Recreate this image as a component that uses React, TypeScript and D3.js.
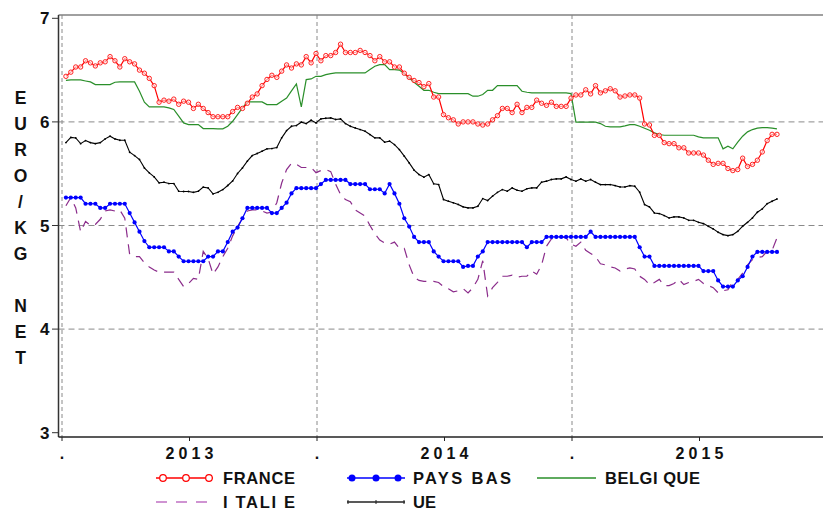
import React, { useEffect, useRef } from 'react';
import * as d3 from 'd3';

// weekly prices, EURO/KG NET, week 1 of 2013 to week 42 of 2015
const france = [
  6.44, 6.48, 6.53, 6.53, 6.59, 6.57, 6.54, 6.57, 6.58, 6.63, 6.59, 6.53, 6.61, 6.58, 6.56, 6.50, 6.47, 6.42, 6.35, 6.19,
  6.21, 6.20, 6.22, 6.17, 6.20, 6.19, 6.13, 6.17, 6.13, 6.09, 6.05, 6.05, 6.05, 6.05, 6.10, 6.14, 6.13, 6.18, 6.24, 6.27,
  6.35, 6.41, 6.45, 6.43, 6.49, 6.55, 6.52, 6.56, 6.55, 6.63, 6.57, 6.66, 6.59, 6.64, 6.64, 6.67, 6.75, 6.67, 6.67, 6.67,
  6.69, 6.67, 6.64, 6.59, 6.63, 6.58, 6.58, 6.53, 6.53, 6.47, 6.43, 6.40, 6.38, 6.34, 6.37, 6.24, 6.24, 6.07, 6.04, 6.02,
  5.98, 6.00, 6.00, 6.00, 5.98, 5.97, 5.98, 6.02, 6.06, 6.13, 6.13, 6.09, 6.17, 6.09, 6.14, 6.14, 6.21, 6.18, 6.16, 6.19,
  6.15, 6.15, 6.15, 6.23, 6.26, 6.26, 6.31, 6.27, 6.35, 6.28, 6.30, 6.32, 6.30, 6.24, 6.25, 6.26, 6.26, 6.23, 5.98, 5.97,
  5.87, 5.87, 5.80, 5.79, 5.79, 5.75, 5.75, 5.70, 5.70, 5.70, 5.68, 5.63, 5.59, 5.60, 5.60, 5.55, 5.53, 5.54, 5.65, 5.57,
  5.59, 5.63, 5.71, 5.82, 5.88, 5.88,
];
const paysBas = [
  5.27, 5.27, 5.27, 5.27, 5.21, 5.21, 5.21, 5.17, 5.17, 5.21, 5.21, 5.21, 5.21, 5.12, 5.03, 4.94, 4.85, 4.79, 4.79, 4.79,
  4.79, 4.75, 4.75, 4.70, 4.655, 4.655, 4.655, 4.655, 4.655, 4.70, 4.70, 4.75, 4.75, 4.84, 4.94, 4.98, 5.07, 5.17, 5.17, 5.17,
  5.17, 5.17, 5.12, 5.12, 5.17, 5.22, 5.31, 5.36, 5.36, 5.36, 5.36, 5.36, 5.40, 5.44, 5.44, 5.44, 5.44, 5.44, 5.40, 5.40,
  5.40, 5.40, 5.35, 5.35, 5.35, 5.31, 5.40, 5.31, 5.21, 5.07, 4.99, 4.89, 4.84, 4.84, 4.84, 4.75, 4.70, 4.655, 4.655, 4.655,
  4.655, 4.60, 4.61, 4.61, 4.70, 4.75, 4.84, 4.84, 4.84, 4.84, 4.84, 4.84, 4.84, 4.84, 4.79, 4.84, 4.84, 4.84, 4.89, 4.89,
  4.89, 4.89, 4.89, 4.89, 4.89, 4.89, 4.89, 4.94, 4.89, 4.89, 4.89, 4.89, 4.89, 4.89, 4.89, 4.89, 4.89, 4.79, 4.70, 4.70,
  4.61, 4.61, 4.61, 4.61, 4.61, 4.61, 4.61, 4.61, 4.61, 4.61, 4.56, 4.56, 4.56, 4.47, 4.41, 4.41, 4.41, 4.47, 4.51, 4.60,
  4.70, 4.745, 4.745, 4.745, 4.745, 4.745,
];
const belgique = [
  6.40, 6.405, 6.405, 6.405, 6.395, 6.386, 6.36, 6.36, 6.36, 6.36, 6.383, 6.386, 6.386, 6.386, 6.386, 6.296, 6.19, 6.145, 6.145, 6.145,
  6.145, 6.135, 6.12, 6.055, 5.99, 5.974, 5.974, 5.974, 5.936, 5.936, 5.936, 5.933, 5.933, 5.958, 6.006, 6.07, 6.135, 6.193, 6.193, 6.193,
  6.193, 6.167, 6.167, 6.167, 6.20, 6.23, 6.30, 6.367, 6.145, 6.408, 6.415, 6.44, 6.44, 6.456, 6.466, 6.473, 6.473, 6.473, 6.473, 6.473,
  6.473, 6.473, 6.505, 6.537, 6.553, 6.553, 6.505, 6.505, 6.50, 6.466, 6.424, 6.383, 6.344, 6.305, 6.305, 6.286, 6.273, 6.273, 6.273, 6.273,
  6.273, 6.273, 6.273, 6.248, 6.248, 6.264, 6.305, 6.305, 6.35, 6.35, 6.35, 6.35, 6.35, 6.296, 6.286, 6.28, 6.28, 6.28, 6.28, 6.28,
  6.28, 6.28, 6.28, 6.273, 5.997, 5.997, 5.997, 5.997, 5.997, 5.984, 5.958, 5.952, 5.952, 5.952, 5.962, 5.974, 5.974, 5.958, 5.939, 5.92,
  5.894, 5.878, 5.871, 5.871, 5.871, 5.871, 5.871, 5.871, 5.871, 5.855, 5.846, 5.846, 5.846, 5.846, 5.74, 5.765, 5.74, 5.804, 5.862, 5.904,
  5.926, 5.94, 5.945, 5.945, 5.939, 5.932,
];
const italie = [
  5.19, 5.27, 5.17, 4.94, 5.04, 5.00, 5.01, 5.06, 5.14, 5.15, 5.14, 5.15, 5.07, 4.72, 4.70, 4.70, 4.64, 4.60, 4.57, 4.55,
  4.55, 4.55, 4.55, 4.48, 4.41, 4.44, 4.49, 4.48, 4.75, 4.68, 4.53, 4.60, 4.70, 4.78, 4.90, 4.99, 5.07, 5.14, 5.15, 5.15,
  5.14, 5.12, 5.13, 5.22, 5.41, 5.54, 5.60, 5.59, 5.56, 5.56, 5.56, 5.51, 5.53, 5.54, 5.52, 5.40, 5.30, 5.25, 5.23, 5.15,
  5.12, 5.09, 5.00, 4.92, 4.86, 4.83, 4.82, 4.84, 4.78, 4.78, 4.62, 4.50, 4.47, 4.46, 4.46, 4.46, 4.45, 4.41, 4.39, 4.36,
  4.37, 4.39, 4.35, 4.40, 4.48, 4.66, 4.32, 4.40, 4.45, 4.51, 4.51, 4.52, 4.50, 4.51, 4.51, 4.56, 4.53, 4.62, 4.80, 4.87,
  4.89, 4.89, 4.88, 4.82, 4.80, 4.84, 4.76, 4.73, 4.70, 4.63, 4.62, 4.60, 4.59, 4.56, 4.58, 4.59, 4.58, 4.51, 4.48, 4.43,
  4.45, 4.48, 4.42, 4.42, 4.44, 4.48, 4.43, 4.45, 4.46, 4.48, 4.44, 4.42, 4.40, 4.35, 4.37, 4.38, 4.46, 4.48, 4.54, 4.62,
  4.67, 4.69, 4.70, 4.75, 4.76, 4.88,
];
const ue = [
  5.80, 5.85, 5.845, 5.79, 5.82, 5.80, 5.79, 5.80, 5.836, 5.862, 5.836, 5.823, 5.823, 5.707, 5.675, 5.637, 5.556, 5.508, 5.469, 5.412,
  5.418, 5.405, 5.405, 5.331, 5.328, 5.328, 5.32, 5.331, 5.37, 5.363, 5.305, 5.32, 5.347, 5.386, 5.43, 5.502, 5.556, 5.621, 5.675, 5.695,
  5.717, 5.74, 5.743, 5.752, 5.846, 5.916, 5.958, 5.965, 5.997, 5.984, 6.016, 5.99, 6.029, 6.035, 6.039, 6.023, 6.029, 5.984, 5.958, 5.942,
  5.926, 5.91, 5.878, 5.846, 5.846, 5.804, 5.814, 5.781, 5.733, 5.669, 5.604, 5.534, 5.492, 5.466, 5.492, 5.402, 5.395, 5.251, 5.235, 5.219,
  5.203, 5.18, 5.17, 5.17, 5.186, 5.26, 5.241, 5.283, 5.32, 5.347, 5.331, 5.363, 5.341, 5.331, 5.354, 5.363, 5.363, 5.418, 5.428, 5.444,
  5.45, 5.45, 5.469, 5.444, 5.428, 5.45, 5.428, 5.444, 5.418, 5.395, 5.395, 5.395, 5.385, 5.372, 5.372, 5.385, 5.379, 5.321, 5.202, 5.179,
  5.121, 5.115, 5.096, 5.073, 5.083, 5.083, 5.073, 5.05, 5.05, 5.031, 5.018, 4.993, 4.967, 4.935, 4.912, 4.902, 4.912, 4.944, 4.993, 5.031,
  5.073, 5.128, 5.16, 5.211, 5.234, 5.256,
];

const years = [2013, 2014, 2015];
const yTicks = [3, 4, 5, 6, 7];
const gridY = [4, 5, 6];
const yTitle = 'EURO/KG NET';

const FONT = '"Liberation Sans", Arial, sans-serif';

// week index -> fractional year position
const weekPos = (i: number) => 2013 + (i + 0.8) / 52;

const App = () => {
  const svgRef = useRef<SVGSVGElement>(null);

  useEffect(() => {
    const svg = d3.select(svgRef.current);
    svg.selectAll('*').remove();

    const left = 58.5, top = 15, bottom = 437, right = 823;
    const x = d3.scaleLinear().domain([2013, 2016]).range([62, 827]);
    const y = d3.scaleLinear().domain([3, 7]).range([432.7, 18.3]);

    svg.append('rect').attr('width', 823).attr('height', 511).attr('fill', '#fff');

    // grid
    gridY.forEach(v => {
      svg.append('line')
        .attr('x1', left).attr('x2', right).attr('y1', y(v)).attr('y2', y(v))
        .attr('stroke', '#8a8a8a').attr('stroke-width', 1).attr('stroke-dasharray', '6,4');
    });
    years.forEach(yr => {
      svg.append('line')
        .attr('x1', x(yr)).attr('x2', x(yr)).attr('y1', top).attr('y2', bottom)
        .attr('stroke', '#8a8a8a').attr('stroke-width', 1).attr('stroke-dasharray', '4,3');
    });

    // frame / axes
    svg.append('line').attr('x1', left).attr('x2', right).attr('y1', top).attr('y2', top)
      .attr('stroke', '#808080').attr('stroke-width', 1.5);
    svg.append('line').attr('x1', left).attr('x2', left).attr('y1', top).attr('y2', bottom)
      .attr('stroke', '#333').attr('stroke-width', 1.5);
    svg.append('line').attr('x1', left).attr('x2', right).attr('y1', bottom).attr('y2', bottom)
      .attr('stroke', '#222').attr('stroke-width', 1.5);

    // y ticks
    yTicks.forEach(v => {
      svg.append('line').attr('x1', 52).attr('x2', left).attr('y1', y(v)).attr('y2', y(v))
        .attr('stroke', '#333').attr('stroke-width', 1);
      svg.append('text').attr('x', 49.5).attr('y', y(v) + 6)
        .attr('text-anchor', 'end').attr('font-family', FONT).attr('font-weight', 'bold')
        .attr('font-size', 17).attr('fill', '#111').text(String(v));
    });

    // x ticks: year boundaries "." and year labels at mid-year
    years.forEach(yr => {
      [yr, yr + 0.5].forEach(p => {
        svg.append('line').attr('x1', x(p)).attr('x2', x(p)).attr('y1', bottom).attr('y2', bottom + 4)
          .attr('stroke', '#222').attr('stroke-width', 1);
      });
      svg.append('text').attr('x', x(yr)).attr('y', 459).attr('text-anchor', 'middle')
        .attr('font-family', FONT).attr('font-weight', 'bold').attr('font-size', 16).attr('fill', '#111').text('.');
      svg.append('text').attr('x', x(yr + 0.5) - 24).attr('y', 458.5)
        .attr('font-family', FONT).attr('font-weight', 'bold').attr('font-size', 16).attr('fill', '#111')
        .attr('textLength', 48).attr('lengthAdjust', 'spacing').text(String(yr));
    });

    // y title, one letter per row
    yTitle.split('').forEach((ch, k) => {
      if (ch === ' ') return;
      svg.append('text').attr('x', 20.5).attr('y', 97 + k * 26 + 6.5).attr('text-anchor', 'middle')
        .attr('font-family', FONT).attr('font-weight', 'bold').attr('font-size', 17.5).attr('fill', '#111').text(ch);
    });

    const line = d3.line<number>().x((d, i) => x(weekPos(i))).y(d => y(d));

    const g = svg.append('g');

    g.append('path').datum(belgique).attr('d', line).attr('fill', 'none')
      .attr('stroke', '#2a8f2a').attr('stroke-width', 1.2);

    g.append('path').datum(italie).attr('d', line).attr('fill', 'none')
      .attr('stroke', '#8b2c8b').attr('stroke-width', 1.2).attr('stroke-dasharray', '10,7');

    g.append('path').datum(ue).attr('d', line).attr('fill', 'none')
      .attr('stroke', '#000').attr('stroke-width', 1.1);
    g.selectAll('.ue-pt').data(ue).enter().append('circle')
      .attr('cx', (d, i) => x(weekPos(i))).attr('cy', d => y(d)).attr('r', 0.9).attr('fill', '#000');

    g.append('path').datum(paysBas).attr('d', line).attr('fill', 'none')
      .attr('stroke', '#0000ff').attr('stroke-width', 1.2);
    g.selectAll('.pb-pt').data(paysBas).enter().append('circle')
      .attr('cx', (d, i) => x(weekPos(i))).attr('cy', d => y(d)).attr('r', 2.1).attr('fill', '#0000ff');

    g.append('path').datum(france).attr('d', line).attr('fill', 'none')
      .attr('stroke', '#ff0000').attr('stroke-width', 1.2);
    g.selectAll('.fr-pt').data(france).enter().append('circle')
      .attr('cx', (d, i) => x(weekPos(i))).attr('cy', d => y(d)).attr('r', 2.2)
      .attr('fill', '#fff').attr('fill-opacity', 0.6).attr('stroke', '#ff2020').attr('stroke-width', 1);

    // legend
    const lg = svg.append('g');
    const legendText = (tx: number, ty: number, label: string, len: number) => {
      lg.append('text').attr('x', tx).attr('y', ty).attr('font-family', FONT).attr('font-weight', 'bold')
        .attr('font-size', 16.5).attr('fill', '#111').attr('textLength', len).attr('lengthAdjust', 'spacing').text(label);
    };
    // FRANCE
    lg.append('line').attr('x1', 156).attr('x2', 213).attr('y1', 478).attr('y2', 478).attr('stroke', '#ff0000').attr('stroke-width', 1.3);
    [163, 186, 209].forEach(cx => lg.append('circle').attr('cx', cx).attr('cy', 478).attr('r', 3.3)
      .attr('fill', '#fff').attr('stroke', '#ff0000').attr('stroke-width', 1.2));
    legendText(223, 484, 'FRANCE', 72);
    // PAYS BAS
    lg.append('line').attr('x1', 347).attr('x2', 405).attr('y1', 478).attr('y2', 478).attr('stroke', '#0000ff').attr('stroke-width', 1.3);
    [352, 376, 398].forEach(cx => lg.append('circle').attr('cx', cx).attr('cy', 478).attr('r', 3.5).attr('fill', '#0000ff'));
    legendText(413, 484, 'PAYS  BAS', 98);
    // BELGIQUE
    lg.append('line').attr('x1', 537).attr('x2', 596).attr('y1', 478).attr('y2', 478).attr('stroke', '#2a8f2a').attr('stroke-width', 1.3);
    legendText(605, 484, 'BELGI QUE', 95);
    // ITALIE
    lg.append('line').attr('x1', 156).attr('x2', 213).attr('y1', 502).attr('y2', 502).attr('stroke', '#c070c4')
      .attr('stroke-width', 1.6).attr('stroke-dasharray', '11,9');
    legendText(223, 508, 'I TALI E', 72);
    // UE
    lg.append('line').attr('x1', 347).attr('x2', 405).attr('y1', 502).attr('y2', 502).attr('stroke', '#222').attr('stroke-width', 1.3);
    [348, 376, 404].forEach(cx => lg.append('line').attr('x1', cx).attr('x2', cx).attr('y1', 500).attr('y2', 504)
      .attr('stroke', '#222').attr('stroke-width', 1));
    legendText(413, 508, 'UE', 23);
  }, []);

  return (
    <svg ref={svgRef} width={823} height={511}
      style={{ position: 'absolute', left: 0, top: 0, display: 'block' }} />
  );
};

export default App;
